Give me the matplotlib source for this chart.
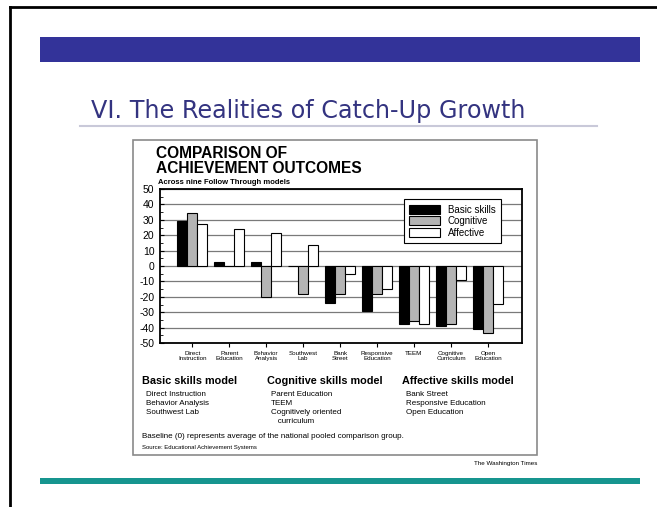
import numpy as np
import matplotlib
matplotlib.use('Agg')
import matplotlib.pyplot as plt
from matplotlib.patches import Rectangle

plt.rcParams['axes.unicode_minus'] = False

# Datos del gráfico
modelos = ['Direct\nInstruction', 'Parent\nEducation', 'Behavior\nAnalysis',
           'Southwest\nLab', 'Bank\nStreet', 'Responsive\nEducation', 'TEEM',
           'Cognitive\nCurriculum', 'Open\nEducation']
basicas = [29, 2.5, 2.5, 0, -24, -29.5, -37.5, -39, -41]
cognitivas = [34.5, 0, -20, -18, -18, -18, -36, -37.5, -43.5]
afectivas = [27, 24, 21.5, 13.5, -5, -15, -37.5, -9, -24.5]
series = ['Basic skills', 'Cognitive', 'Affective']
colores = ['#000000', '#b4b4b4', '#ffffff']
y_ticks = list(range(-50, 51, 10))

W, H = 657, 507

def fx(x):
    return x / W

def fy(y):
    return 1 - y / H

fig = plt.figure(figsize=(W / 100, H / 100), dpi=100)
fig.patch.set_facecolor('white')

# Marco de la diapositiva
fig.add_artist(plt.Line2D([fx(10), fx(10)], [fy(7), 0], color='black', lw=2))
fig.add_artist(plt.Line2D([fx(10), 1], [fy(7), fy(7)], color='black', lw=2))

# Barra azul superior y línea verde inferior
fig.add_artist(Rectangle((fx(40), fy(62)), fx(600), 25 / H, color='#333399', lw=0))
fig.add_artist(Rectangle((fx(40), fy(484)), fx(600), 6 / H, color='#16958f', lw=0))

# Título de la diapositiva
fig.text(fx(91), fy(118), 'VI. The Realities of Catch-Up Growth', fontsize=17.2,
         color='#333380', family='DejaVu Sans', va='baseline')
fig.add_artist(plt.Line2D([fx(80), fx(597)], [fy(126), fy(126)], color='#c9c9d9', lw=1.5))

# Recuadro del gráfico
fig.add_artist(Rectangle((fx(133), fy(455)), fx(404), 315 / H, fill=False,
                         edgecolor='#8a8a8a', lw=1.2))

fig.text(fx(156), fy(158), 'COMPARISON OF', fontsize=11.2, weight='bold',
         family='Liberation Sans', va='baseline')
fig.text(fx(156), fy(173), 'ACHIEVEMENT OUTCOMES', fontsize=11.2, weight='bold',
         family='Liberation Sans', va='baseline')
fig.text(fx(158), fy(183.5), 'Across nine Follow Through models', fontsize=5.5,
         weight='bold', family='Liberation Sans', va='baseline')

ax = fig.add_axes([fx(160), fy(343), fx(362), 154 / H])
x = np.arange(len(modelos))
ancho = 0.27
for i, (vals, nombre, col) in enumerate(zip([basicas, cognitivas, afectivas], series, colores)):
    ax.bar(x + (i - 1) * ancho, vals, ancho, color=col, edgecolor='black',
           linewidth=0.8, label=nombre, zorder=3)

ax.set_ylim(-50, 50)
ax.set_xlim(-0.87, 8.92)
ax.set_yticks(y_ticks)
ax.set_yticks(range(-45, 50, 10), minor=True)
ax.grid(axis='y', color='#7a7a7a', lw=0.9, zorder=0)
ax.set_xticks(x)
ax.set_xticklabels(modelos, fontsize=4.5, family='Liberation Sans', linespacing=1.0)
ax.tick_params(axis='x', length=3, width=0.8, pad=3)
ax.tick_params(axis='y', which='major', labelsize=7.5, length=3, direction='in', pad=4)
ax.tick_params(axis='y', which='minor', length=2, direction='in')
for lab in ax.get_yticklabels():
    lab.set_family('Liberation Sans')
for s in ax.spines.values():
    s.set_linewidth(1.3)

leg = ax.legend(loc='upper right', bbox_to_anchor=(0.955, 0.965), frameon=True,
                fancybox=False, edgecolor='black', handlelength=3.2,
                handleheight=1.1, labelspacing=0.15, borderpad=0.55,
                prop={'family': 'Liberation Sans', 'size': 7})
leg.get_frame().set_linewidth(0.8)
leg.get_frame().set_alpha(1)
leg.set_zorder(5)

# Leyenda de modelos
encabezados = ['Basic skills model', 'Cognitive skills model', 'Affective skills model']
grupos = [['Direct Instruction', 'Behavior Analysis', 'Southwest Lab'],
          ['Parent Education', 'TEEM', 'Cognitively oriented', '   curriculum'],
          ['Bank Street', 'Responsive Education', 'Open Education']]
columnas_x = [142, 267, 402]
for cx, enc, items in zip(columnas_x, encabezados, grupos):
    fig.text(fx(cx), fy(384), enc, fontsize=7.8, weight='bold',
             family='Liberation Sans', va='baseline')
    for j, it in enumerate(items):
        fig.text(fx(cx + 4), fy(396 + j * 9), it, fontsize=5.8,
                 family='Liberation Sans', va='baseline')

fig.text(fx(142), fy(438), 'Baseline (0) represents average of the national pooled comparison group.',
         fontsize=5.8, family='Liberation Sans', va='baseline')
fig.text(fx(142), fy(449), 'Source: Educational Achievement Systems', fontsize=4.3,
         family='Liberation Sans', va='baseline')
fig.text(fx(537), fy(465), 'The Washington Times', fontsize=4.5, ha='right',
         family='Liberation Sans', va='baseline')

fig.savefig('out.png', dpi=100)
